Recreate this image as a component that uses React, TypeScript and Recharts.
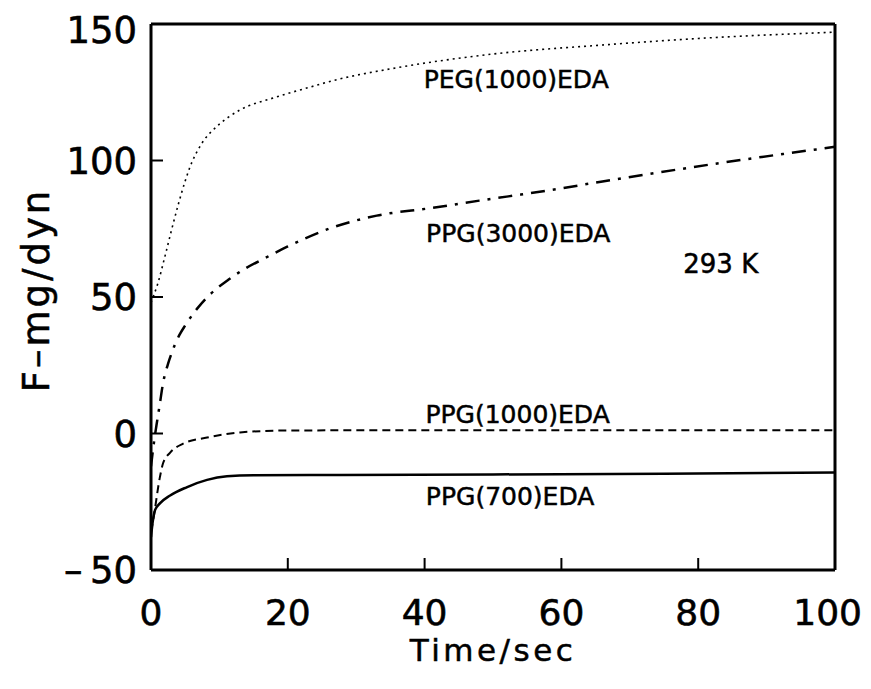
import React from 'react';
import {
  LineChart,
  Line,
  XAxis,
  YAxis,
  ReferenceLine,
  ReferenceDot,
} from 'recharts';

// Force F (mg/dyn) against time (s) for four polyether-EDA samples at 293 K
const pegTime = [0, 1, 2, 3, 4, 5, 6, 7, 8, 9, 11, 13, 18, 23, 27, 36, 50, 66, 80, 100];
const pegForce = [48, 55, 64.5, 74.5, 84, 92.5, 99.5, 104.5, 108.3, 111, 115.3, 118.5, 123, 126.7, 129.5, 134, 139, 142.3, 144.7, 147];

const ppg3000Time = [0, 0.5, 0.8, 1.3, 1.75, 2.5, 3, 3.5, 4.2, 5, 6, 6.9, 8.8, 11.3, 13.7, 16.7, 20, 26, 33, 41, 48, 58, 66, 83, 100];
const ppg3000Force = [-12, -2, 3, 11, 18.3, 25.6, 29.3, 32.6, 36.3, 39.6, 43.3, 46.2, 51.3, 56.3, 60.3, 64.3, 68.5, 75, 79.8, 82.6, 85.3, 89, 92.3, 99, 105];

const ppg1000Time = [0, 0.3, 1.3, 1.75, 2.8, 4.7, 8.2, 13, 20, 40, 60, 80, 100];
const ppg1000Force = [-36, -32, -16, -11, -7, -3.7, -1.5, 0.4, 1.1, 1.2, 1.2, 1.2, 1.2];

const ppg700Time = [0, 0.1, 0.6, 1.3, 2.8, 5.2, 8.2, 11.1, 15, 27.6, 50, 75, 100];
const ppg700Force = [-38, -35.5, -28, -25.6, -22.7, -19.7, -17, -15.7, -15.3, -15.2, -15, -14.7, -14.3];

const xTicks = [0, 20, 40, 60, 80, 100];
const yTicks = [-50, 0, 50, 100, 150];

const seriesLabels = ['PEG(1000)EDA', 'PPG(3000)EDA', 'PPG(1000)EDA', 'PPG(700)EDA'];
const temperatureLabel = '293 K';

const toPoints = (t: number[], f: number[]) => t.map((v, i) => ({ t: v, f: f[i] }));

const pegData = toPoints(pegTime, pegForce);
const ppg3000Data = toPoints(ppg3000Time, ppg3000Force);
const ppg1000Data = toPoints(ppg1000Time, ppg1000Force);
const ppg700Data = toPoints(ppg700Time, ppg700Force);

const FONT = '"DejaVu Sans", sans-serif';

const formatY = (v: number) => (v < 0 ? `\u2013\u2009${Math.abs(v)}` : `${v}`);

// x tick text; the last label is right-aligned so it stays inside the page edge
const XTick = (props: any) => {
  const { x, y, payload } = props;
  const isLast = payload.value === xTicks[xTicks.length - 1];
  return (
    <text
      x={isLast ? x + 27 : x}
      y={y}
      dy="0.71em"
      textAnchor={isLast ? 'end' : 'middle'}
      fill="#000"
      stroke="#000"
      strokeWidth={0.6}
      fontSize={36}
      fontFamily={FONT}
    >
      {payload.value}
    </text>
  );
};

const textLabel = (text: string, size = 25) => ({
  value: text,
  position: 'center' as const,
  fill: '#000',
  stroke: '#000',
  strokeWidth: 0.5,
  fontSize: size,
  fontFamily: FONT,
});

export default function App() {
  return (
    <div style={{ width: 863, height: 673 }}>
      <style>{'html, body { overflow: hidden; }'}</style>
      <LineChart
        width={863}
        height={673}
        margin={{ top: 16, right: 36, bottom: 11, left: 0 }}
        style={{ background: '#fff' }}
      >
        <XAxis
          type="number"
          dataKey="t"
          domain={[0, 100]}
          ticks={xTicks}
          allowDataOverflow
          height={100}
          axisLine={{ stroke: '#000', strokeWidth: 3 }}
          tickLine={{ stroke: '#000', strokeWidth: 2 }}
          tickSize={-12}
          tickMargin={41}
          tick={<XTick />}
          label={{
            value: 'Time/sec',
            position: 'insideBottom',
            offset: 9,
            fill: '#000',
            stroke: '#000',
            strokeWidth: 0.5,
            fontSize: 31,
            fontFamily: FONT,
            style: { letterSpacing: '3.5px' },
          }}
        />
        <YAxis
          type="number"
          dataKey="f"
          domain={[-50, 150]}
          ticks={yTicks}
          allowDataOverflow
          width={143}
          axisLine={{ stroke: '#000', strokeWidth: 3 }}
          tickLine={{ stroke: '#000', strokeWidth: 2 }}
          tickSize={-12}
          tickMargin={26}
          tickFormatter={formatY}
          tick={{ fill: '#000', stroke: '#000', strokeWidth: 0.6, fontSize: 37, fontFamily: FONT }}
          label={{
            content: ({ viewBox }: any) => {
              const cx = 28;
              const cy = viewBox.y + viewBox.height / 2 - 7;
              return (
                <text
                  x={cx}
                  y={cy}
                  transform={`rotate(-90 ${cx} ${cy})`}
                  textAnchor="middle"
                  dominantBaseline="central"
                  fill="#000"
                  stroke="#000"
                  strokeWidth={0.5}
                  fontSize={37}
                  fontFamily={FONT}
                  style={{ letterSpacing: '3px' }}
                >
                  F{'\u2013'}mg/dyn
                </text>
              );
            },
          }}
        />
        <ReferenceLine y={150} stroke="#000" strokeWidth={3} />
        <ReferenceLine x={100} stroke="#000" strokeWidth={3} />

        <Line
          data={pegData}
          dataKey="f"
          type="monotone"
          stroke="#000"
          strokeWidth={1.6}
          strokeDasharray="2 4"
          dot={false}
          isAnimationActive={false}
        />
        <Line
          data={ppg3000Data}
          dataKey="f"
          type="monotone"
          stroke="#000"
          strokeWidth={2.5}
          strokeDasharray="14 8 3 8"
          dot={false}
          isAnimationActive={false}
        />
        <Line
          data={ppg1000Data}
          dataKey="f"
          type="monotone"
          stroke="#000"
          strokeWidth={2}
          strokeDasharray="8 5"
          dot={false}
          isAnimationActive={false}
        />
        <Line
          data={ppg700Data}
          dataKey="f"
          type="monotone"
          stroke="#000"
          strokeWidth={2.5}
          dot={false}
          isAnimationActive={false}
        />

        <ReferenceDot x={53.4} y={129.7} r={0} stroke="none" label={textLabel(seriesLabels[0])} />
        <ReferenceDot x={53.7} y={73.3} r={0} stroke="none" label={textLabel(seriesLabels[1])} />
        <ReferenceDot x={53.6} y={7} r={0} stroke="none" label={textLabel(seriesLabels[2])} />
        <ReferenceDot x={52.5} y={-23} r={0} stroke="none" label={textLabel(seriesLabels[3])} />
        <ReferenceDot x={83.3} y={62.3} r={0} stroke="none" label={textLabel(temperatureLabel, 26)} />
      </LineChart>
    </div>
  );
}
